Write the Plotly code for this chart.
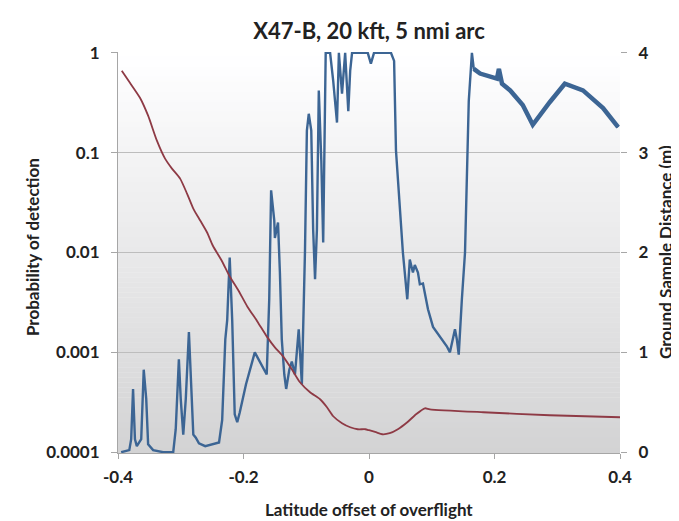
import plotly.graph_objects as go

# ---- data ----
pd_x = [-0.395, -0.382, -0.379, -0.376, -0.373, -0.370, -0.363, -0.359, -0.355, -0.352,
        -0.344, -0.328, -0.312, -0.308, -0.303, -0.300, -0.296, -0.292, -0.287, -0.284,
        -0.280, -0.276, -0.271, -0.261, -0.250, -0.239, -0.234, -0.229, -0.226, -0.222,
        -0.218, -0.214, -0.210, -0.206, -0.196, -0.182, -0.163, -0.159, -0.156, -0.151,
        -0.150, -0.145, -0.142, -0.139, -0.135, -0.132, -0.127, -0.123, -0.118, -0.112,
        -0.107, -0.102, -0.099, -0.096, -0.092, -0.089, -0.086, -0.083, -0.080, -0.076,
        -0.073, -0.070, -0.069, -0.062, -0.057, -0.051, -0.048, -0.043, -0.038, -0.033,
        -0.030, -0.027, -0.002, 0.003, 0.008, 0.035, 0.040, 0.043, 0.054, 0.061,
        0.065, 0.070, 0.073, 0.078, 0.081, 0.086, 0.094, 0.102, 0.113, 0.124,
        0.129, 0.134, 0.137, 0.140, 0.143, 0.148, 0.153, 0.159, 0.163, 0.164,
        0.167, 0.177, 0.204, 0.207, 0.212, 0.225, 0.245, 0.261, 0.288, 0.312,
        0.341, 0.373, 0.397]
pd_y = [1.0e-4, 1.05e-4, 1.35e-4, 4.3e-4, 1.35e-4, 1.15e-4, 1.35e-4, 6.7e-4, 3.4e-4, 1.2e-4,
        1.05e-4, 1.0e-4, 1.0e-4, 1.7e-4, 8.5e-4, 3.4e-4, 1.5e-4, 3.4e-4, 1.6e-3, 5.4e-4,
        1.5e-4, 1.4e-4, 1.23e-4, 1.15e-4, 1.2e-4, 1.25e-4, 2.1e-4, 1.35e-3, 2.1e-3, 8.9e-3,
        2.1e-3, 2.4e-4, 2.0e-4, 2.5e-4, 4.8e-4, 1.0e-3, 6.0e-4, 3.4e-3, 0.042, 0.021,
        0.014, 0.020, 6.3e-3, 1.35e-3, 6.0e-4, 4.3e-4, 6.7e-4, 8.1e-4, 6.0e-4, 1.7e-3,
        4.8e-4, 0.0105, 0.166, 0.245, 0.166, 0.017, 5.4e-3, 0.017, 0.42, 0.083,
        0.0126, 0.21, 1.0, 1.0, 0.52, 0.20, 1.0, 0.39, 1.0, 0.26,
        0.66, 1.0, 1.0, 0.78, 1.0, 1.0, 0.83, 0.105, 0.010, 3.4e-3,
        8.5e-3, 6.3e-3, 7.5e-3, 6.3e-3, 4.8e-3, 4.9e-3, 2.7e-3, 1.8e-3, 1.45e-3, 1.15e-3,
        1.0e-3, 1.35e-3, 1.7e-3, 1.35e-3, 9.5e-4, 3.4e-3, 0.010, 0.33, 0.89, 1.0,
        0.69, 0.62, 0.55, 0.69, 0.49, 0.42, 0.30, 0.19, 0.32, 0.49,
        0.42, 0.28, 0.18]

gsd_x = [-0.394, -0.381, -0.365, -0.352, -0.338, -0.325, -0.314, -0.301, -0.290, -0.280,
         -0.269, -0.258, -0.249, -0.234, -0.222, -0.209, -0.194, -0.178, -0.163, -0.150,
         -0.137, -0.123, -0.110, -0.094, -0.078, -0.067, -0.057, -0.043, -0.030, -0.018,
         -0.006, 0.000, 0.011, 0.021, 0.033, 0.046, 0.061, 0.075, 0.089, 0.097,
         0.182, 0.288, 0.400]
gsd_y = [3.82, 3.70, 3.55, 3.37, 3.12, 2.94, 2.84, 2.74, 2.59, 2.44,
         2.32, 2.20, 2.07, 1.91, 1.76, 1.63, 1.46, 1.31, 1.16, 1.05,
         0.96, 0.83, 0.70, 0.60, 0.53, 0.45, 0.36, 0.29, 0.25, 0.23,
         0.23, 0.22, 0.20, 0.18, 0.19, 0.23, 0.30, 0.38, 0.44, 0.43,
         0.40, 0.37, 0.35]

x_ticks = [-0.4, -0.2, 0, 0.2, 0.4]
x_tick_text = ["-0.4", "-0.2", "0", "0.2", "0.4"]
p_ticks = [0.0001, 0.001, 0.01, 0.1, 1]
p_tick_text = ["0.0001", "0.001", "0.01", "0.1", "1"]
g_ticks = [0, 1, 2, 3, 4]

title = "X47-B, 20 kft, 5 nmi arc"
x_title = "Latitude offset of overflight"
y_title = "Probability of detection"
y2_title = "Ground Sample Distance (m)"

# ---- figure ----
FONT = "Lato"
BLUE = "#3c6594"
RED = "#8e3a45"

fig = go.Figure()
fig.add_trace(go.Scatter(x=pd_x, y=pd_y, mode="lines", yaxis="y",
                         line=dict(color=BLUE, width=2.4), showlegend=False))
k = next(i for i, v in enumerate(pd_x) if v > 0.166)
fig.add_trace(go.Scatter(x=pd_x[k:], y=pd_y[k:], mode="lines", yaxis="y",
                         line=dict(color=BLUE, width=4.5), showlegend=False))
fig.add_trace(go.Scatter(x=gsd_x, y=gsd_y, mode="lines", yaxis="y2",
                         line=dict(color=RED, width=1.8, shape="spline", smoothing=0.6),
                         showlegend=False))

# gradient background bands
shapes = []
n = 80
for i in range(n):
    t = (i + 0.5) / n
    c = int(round(255 - 44 * t))
    shapes.append(dict(type="rect", xref="paper", yref="paper",
                       x0=0, x1=1, y0=1 - (i + 1) / n, y1=1 - i / n + 0.001,
                       fillcolor=f"rgb({c},{c},{c + 1})", line=dict(width=0),
                       layer="below"))

tickfont = dict(family=FONT, size=17, color="#222", weight="bold")
titlefont = dict(family=FONT, size=17, color="#222", weight="bold")

# page has an 8px body margin, so the figure is 8px smaller
W, H = 671, 513

fig.update_layout(
    width=W, height=H,
    margin=dict(l=110, r=59, t=44, b=68),
    paper_bgcolor="white", plot_bgcolor="rgba(0,0,0,0)",
    shapes=shapes,
    title=dict(text=title, x=0.5, xref="paper", y=1 - 23 / H, yref="container",
               yanchor="middle", font=dict(family=FONT, size=22, color="#222", weight="bold")),
    xaxis=dict(range=[-0.4, 0.4], tickvals=x_ticks, ticktext=x_tick_text,
               showgrid=False, zeroline=False, showline=True, linecolor="#a6a6a6",
               ticks="outside", ticklen=5, tickcolor="#a6a6a6", tickfont=tickfont,
               ticklabelstandoff=4),
    yaxis=dict(type="log", range=[-4.008, 0.008], tickvals=p_ticks, ticktext=p_tick_text,
               showgrid=True, gridcolor="#bdbdbd", gridwidth=1, zeroline=False,
               showline=True, linecolor="#a6a6a6", ticks="outside", ticklen=6,
               tickcolor="#a6a6a6", tickfont=tickfont, ticklabelstandoff=8),
    yaxis2=dict(range=[-0.008, 4.008], tickvals=g_ticks, overlaying="y", side="right",
                showgrid=False, zeroline=False, showline=False, ticks="outside",
                ticklen=6, tickcolor="#a6a6a6", tickfont=tickfont, ticklabelstandoff=8),
    annotations=[
        dict(text=x_title, xref="paper", yref="paper", x=0.5, y=-0.142,
             showarrow=False, font=titlefont, xanchor="center", yanchor="middle"),
        dict(text=y_title, xref="paper", yref="paper", x=-0.169, y=0.514,
             showarrow=False, font=titlefont, textangle=-90,
             xanchor="center", yanchor="middle"),
        dict(text=y2_title, xref="paper", yref="paper", x=1.0896, y=0.501,
             showarrow=False, font=titlefont, textangle=-90,
             xanchor="center", yanchor="middle"),
    ],
)

fig.write_html("out.html")
